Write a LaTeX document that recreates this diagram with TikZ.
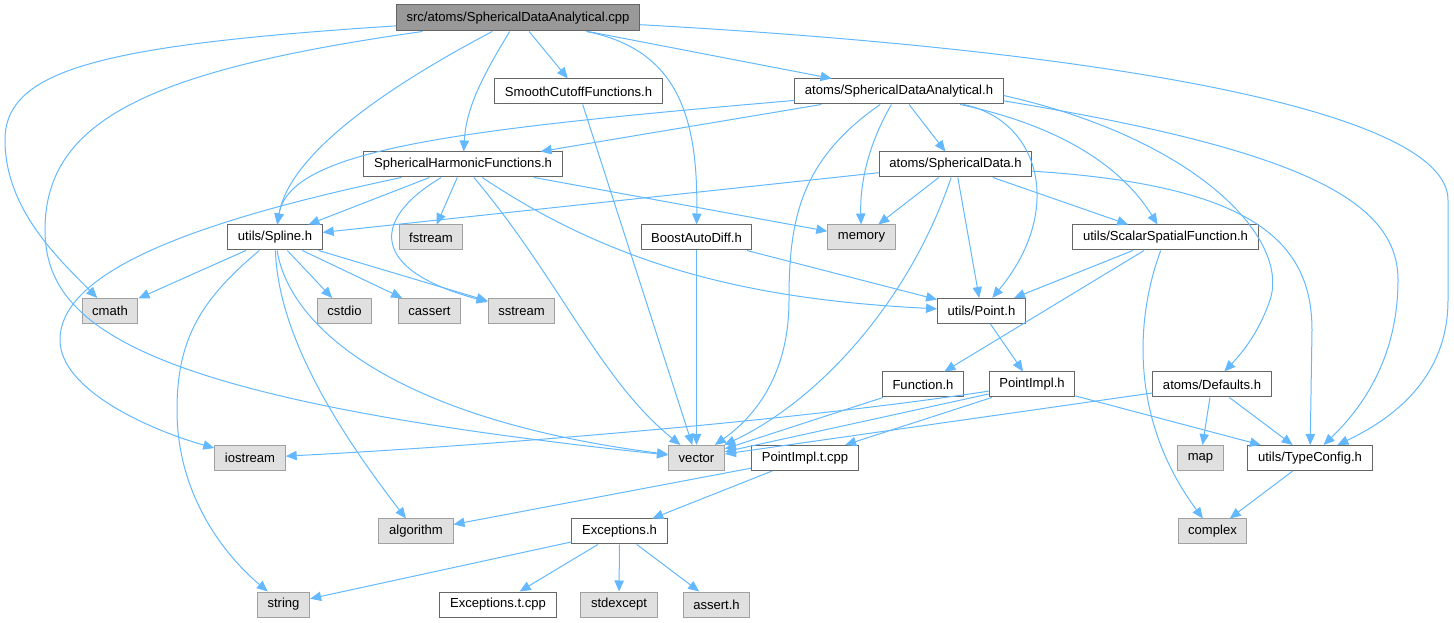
\documentclass[tikz,border=0pt]{standalone}
\usepackage{fontspec}
\setmainfont{Liberation Sans}
\usepackage{tikz}
\usetikzlibrary{arrows.meta}
\definecolor{edgeblue}{HTML}{63B8FF}
\definecolor{boxline}{HTML}{666666}
\definecolor{sysline}{HTML}{A0A0A0}
\definecolor{sysfill}{HTML}{E0E0E0}
\definecolor{rootfill}{HTML}{999999}
\tikzset{
	file/.style={draw=boxline, fill=white, line width=0.75pt, minimum height=18.75pt, inner xsep=7.6pt, inner ysep=0pt, font=\fontsize{9.8}{11}\selectfont},
	sysfile/.style={file, draw=sysline, fill=sysfill},
	rootfile/.style={file, fill=rootfill},
	dep/.style={draw=edgeblue, line width=0.75pt, -{Triangle[length=8.25pt,width=7pt]}},
}

\begin{document}
\begin{tikzpicture}[x=0.75pt, y=-0.75pt]
		\useasboundingbox (0,0) rectangle (1454,623);
		\node[rootfile, minimum height=19.5pt] (cpp) at (518,18) {src/atoms/SphericalDataAnalytical.cpp};
		\node[file] (smooth) at (578.5,91.5) {SmoothCutoffFunctions.h};
		\node[file] (sda) at (899,91.5) {atoms/SphericalDataAnalytical.h};
		\node[file] (sh) at (463,164.5) {SphericalHarmonicFunctions.h};
		\node[file] (sd) at (955.5,164.5) {atoms/SphericalData.h};
		\node[file] (spline) at (275,237.5) {utils/Spline.h};
		\node[sysfile] (fstream) at (431,237.5) {fstream};
		\node[file] (boost) at (696.5,237.5) {BoostAutoDiff.h};
		\node[sysfile] (memory) at (861.5,237.5) {memory};
		\node[file] (ssf) at (1165.5,237.5) {utils/ScalarSpatialFunction.h};
		\node[sysfile] (cmath) at (110,311) {cmath};
		\node[sysfile] (cstdio) at (344.5,311) {cstdio};
		\node[sysfile] (cassert) at (429.5,311) {cassert};
		\node[sysfile] (sstream) at (521.5,311) {sstream};
		\node[file] (point) at (981.5,311) {utils/Point.h};
		\node[file] (function) at (923,384.5) {Function.h};
		\node[file] (pointimpl) at (1032,384.5) {PointImpl.h};
		\node[file] (defaults) at (1212,384.5) {atoms/Defaults.h};
		\node[sysfile] (iostream) at (250,458) {iostream};
		\node[sysfile] (vector) at (696.5,458) {vector};
		\node[file] (pointimplt) at (805,458) {PointImpl.t.cpp};
		\node[sysfile] (map) at (1200.5,458) {map};
		\node[file] (typeconfig) at (1310,458) {utils/TypeConfig.h};
		\node[sysfile] (algorithm) at (416,531.5) {algorithm};
		\node[file] (exceptions) at (619.5,531.5) {Exceptions.h};
		\node[sysfile] (complex) at (1212.5,531.5) {complex};
		\node[sysfile] (string) at (283.5,604.5) {string};
		\node[file] (exceptionst) at (498,604.5) {Exceptions.t.cpp};
		\node[sysfile] (stdexcept) at (619,604.5) {stdexcept};
		\node[sysfile] (asserth) at (716.5,604.5) {assert.h};

		\draw[dep] (cpp) .. controls (100,45) and (5,70) .. (5,140) .. controls (5,210) and (60,260) .. (cmath);
		\draw[dep] (cpp) .. controls (150,70) and (45,120) .. (45,230) .. controls (45,330) and (150,400) .. (vector);
		\draw[dep] (cpp) .. controls (400,80) and (290,150) .. (spline);
		\draw[dep] (cpp) .. controls (480,80) and (466,110) .. (sh);
		\draw[dep] (cpp) -- (smooth);
		\draw[dep] (cpp) .. controls (680,50) and (698,120) .. (boost);
		\draw[dep] (cpp) -- (sda);
		\draw[dep] (cpp) .. controls (1100,50) and (1448,110) .. (1448,200) -- (1448,300) .. controls (1448,380) and (1390,420) .. (typeconfig);

		\draw[dep] (sda) -- (sh);
		\draw[dep] (sda) .. controls (450,130) and (290,150) .. (spline);
		\draw[dep] (sda) .. controls (800,160) and (789,220) .. (789,300) .. controls (789,380) and (750,420) .. (vector);
		\draw[dep] (sda) .. controls (865,150) and (860,190) .. (memory);
		\draw[dep] (sda) -- (sd);
		\draw[dep] (sda) .. controls (1040,120) and (1065,210) .. (point);
		\draw[dep] (sda) .. controls (1080,130) and (1130,180) .. (ssf);
		\draw[dep] ([yshift=-3pt]sda.east) .. controls (1200,140) and (1290,240) .. (1270,300) .. controls (1258,335) and (1240,355) .. (defaults);
		\draw[dep] ([yshift=-7pt]sda.east) .. controls (1300,150) and (1398,200) .. (1398,280) .. controls (1398,360) and (1360,410) .. (typeconfig);

		\draw[dep] (smooth) -- (vector);

		\draw[dep] (sh) .. controls (200,220) and (60,270) .. (60,340) .. controls (60,390) and (150,430) .. (iostream);
		\draw[dep] (sh) -- (spline);
		\draw[dep] (sh) .. controls (370,220) and (370,270) .. (sstream);
		\draw[dep] (sh) -- (fstream);
		\draw[dep] (sh) .. controls (560,280) and (600,380) .. (vector);
		\draw[dep] (sh) .. controls (620,270) and (760,300) .. (point);
		\draw[dep] (sh) -- (memory);

		\draw[dep] (sd) -- (spline);
		\draw[dep] (sd) -- (memory);
		\draw[dep] (sd) .. controls (910,300) and (820,400) .. (vector);
		\draw[dep] (sd) -- (point);
		\draw[dep] (sd) -- (ssf);
		\draw[dep] ([yshift=-5pt]sd.east) .. controls (1250,185) and (1312,240) .. (1312,330) -- (typeconfig);

		\draw[dep] (spline) -- (cmath);
		\draw[dep] (spline) -- (cstdio);
		\draw[dep] (spline) -- (cassert);
		\draw[dep] (spline) -- (sstream);
		\draw[dep] (spline) .. controls (290,330) and (400,420) .. (vector);
		\draw[dep] (spline) .. controls (278,330) and (330,420) .. (algorithm);
		\draw[dep] (spline) .. controls (200,300) and (177,340) .. (177,410) .. controls (177,500) and (230,560) .. (string);

		\draw[dep] (boost) -- (vector);
		\draw[dep] (boost) -- (point);

		\draw[dep] (ssf) -- (point);
		\draw[dep] (ssf) -- (function);
		\draw[dep] (ssf) .. controls (1135,320) and (1130,420) .. (complex);

		\draw[dep] (point) -- (pointimpl);
		\draw[dep] (function) -- (vector);

		\draw[dep] (pointimpl) .. controls (800,420) and (500,445) .. (iostream);
		\draw[dep] (pointimpl) -- (vector);
		\draw[dep] (pointimpl) -- (pointimplt);
		\draw[dep] (pointimpl) -- (typeconfig);

		\draw[dep] (defaults) -- (vector);
		\draw[dep] (defaults) -- (map);
		\draw[dep] (defaults) -- (typeconfig);

		\draw[dep] (typeconfig) -- (complex);

		\draw[dep] (pointimplt) -- (algorithm);
		\draw[dep] (pointimplt) -- (exceptions);

		\draw[dep] (exceptions) -- (string);
		\draw[dep] (exceptions) -- (exceptionst);
		\draw[dep] (exceptions) -- (stdexcept);
		\draw[dep] (exceptions) -- (asserth);
	\end{tikzpicture}
\end{document}
